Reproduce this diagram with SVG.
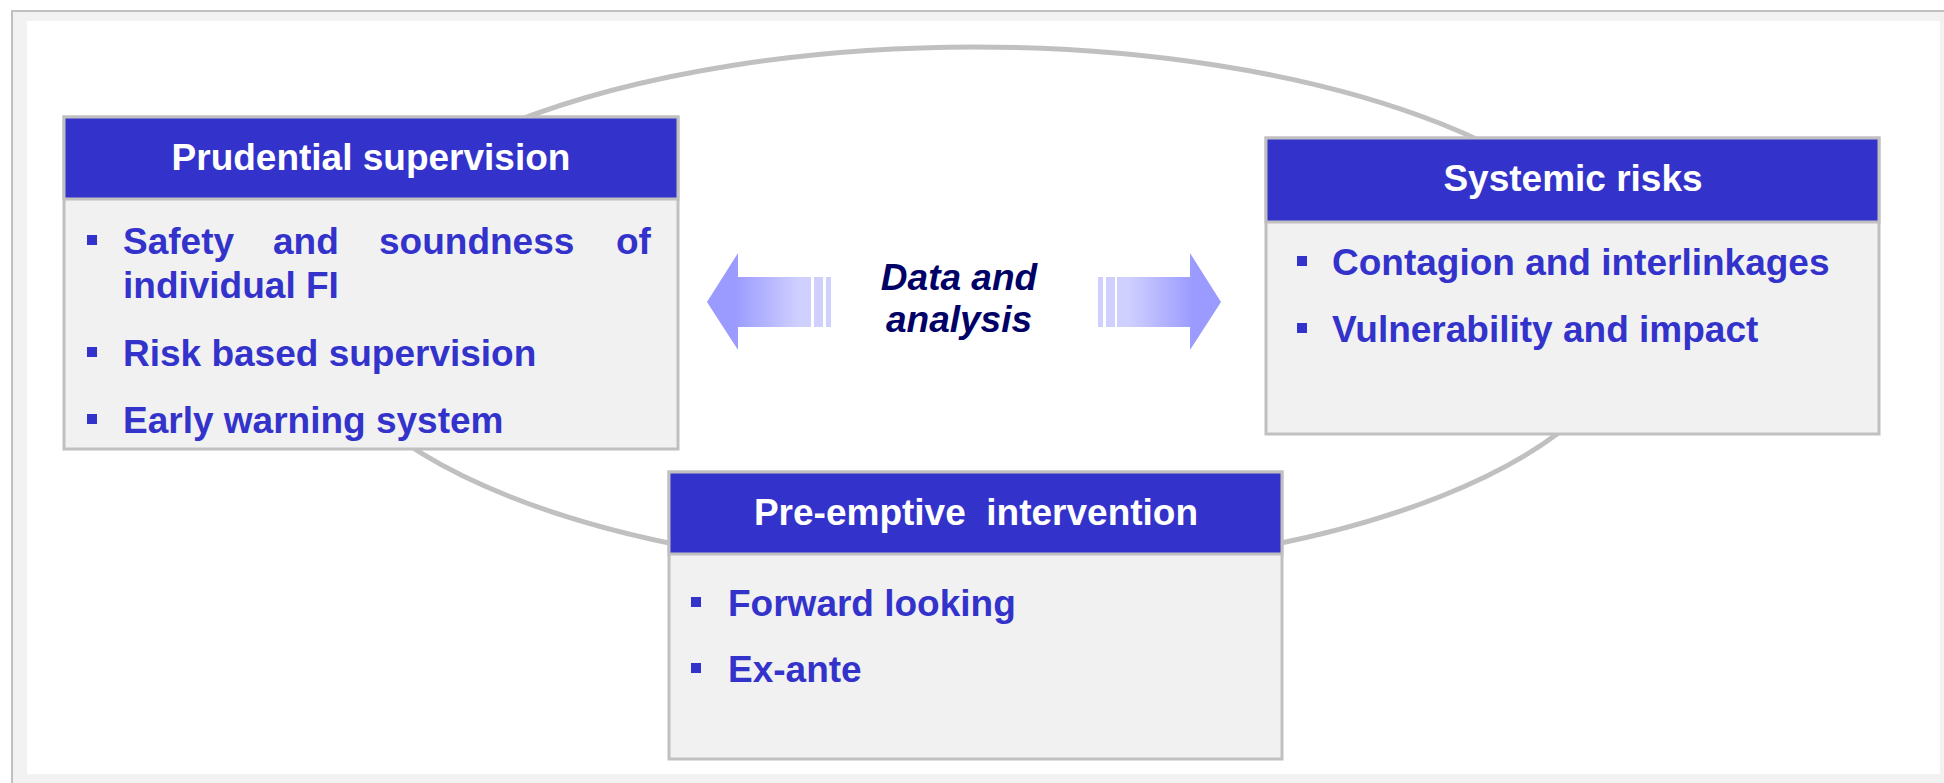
<svg xmlns="http://www.w3.org/2000/svg" width="1944" height="783" viewBox="0 0 1944 783">
  <defs>
    <linearGradient id="gradLeft" gradientUnits="userSpaceOnUse" x1="735" y1="0" x2="800" y2="0">
      <stop offset="0" stop-color="#9b9bff"/>
      <stop offset="1" stop-color="#d0d0ff"/>
    </linearGradient>
    <linearGradient id="gradRight" gradientUnits="userSpaceOnUse" x1="1128" y1="0" x2="1193" y2="0">
      <stop offset="0" stop-color="#d0d0ff"/>
      <stop offset="1" stop-color="#9b9bff"/>
    </linearGradient>
    <style>
      .frame { fill: #f2f2f2; stroke: #c0c0c0; stroke-width: 2; }
      .panel { fill: #ffffff; }
      .cycle { fill: none; stroke: #c0c0c0; stroke-width: 5; }
      .strip { fill: #d0d0ff; }
      .body { fill: #f1f1f1; stroke: #c0c0c0; stroke-width: 3; }
      .head { fill: #3333cc; stroke: #c0c0c0; stroke-width: 3; }
      .title { font-family: "Liberation Sans", Arial, sans-serif; font-weight: bold; font-size: 37px; fill: #ffffff; text-anchor: middle; }
      .item { font-family: "Liberation Sans", Arial, sans-serif; font-weight: bold; font-size: 37px; fill: #3333cc; }
      .bullet { fill: #3333cc; }
      .center { font-family: "Liberation Sans", Arial, sans-serif; font-weight: bold; font-style: italic; font-size: 37px; fill: #000066; text-anchor: middle; }
    </style>
  </defs>

  <!-- page frame -->
  <rect class="frame" x="12" y="11" width="1960" height="800"/>
  <rect class="panel" x="27" y="21" width="1913" height="753"/>

  <!-- cycle ring and the two data-flow arrows -->
  <g id="connectors">
    <ellipse class="cycle" cx="975" cy="310" rx="660" ry="263"/>
    <g id="arrow-left">
      <polygon points="707,302 738,253 738,277 811,277 811,327 738,327 738,350" fill="url(#gradLeft)"/>
      <rect class="strip" x="814" y="277" width="9" height="50"/>
      <rect class="strip" x="826" y="277" width="5" height="50"/>
    </g>
    <g id="arrow-right">
      <polygon points="1221,302 1190,253 1190,277 1117,277 1117,327 1190,327 1190,350" fill="url(#gradRight)"/>
      <rect class="strip" x="1106" y="277" width="9" height="50"/>
      <rect class="strip" x="1098" y="277" width="5" height="50"/>
    </g>
  </g>

  <g id="label-data">
    <text class="center" x="959" y="290">Data and</text>
    <text class="center" x="959" y="332">analysis</text>
  </g>

  <!-- Prudential supervision -->
  <g id="node-prudential">
    <rect class="body" x="64" y="117" width="614" height="332"/>
    <rect class="head" x="64" y="117" width="614" height="82"/>
    <text class="title" x="371" y="170">Prudential supervision</text>
    <rect class="bullet" x="87" y="235" width="10" height="10"/>
    <text class="item" y="254"><tspan x="123">Safety</tspan><tspan x="273">and</tspan><tspan x="379">soundness</tspan><tspan x="616">of</tspan></text>
    <text class="item" x="123" y="298">individual FI</text>
    <rect class="bullet" x="87" y="347" width="10" height="10"/>
    <text class="item" x="123" y="366">Risk based supervision</text>
    <rect class="bullet" x="87" y="414" width="10" height="10"/>
    <text class="item" x="123" y="433">Early warning system</text>
  </g>

  <!-- Systemic risks -->
  <g id="node-systemic">
    <rect class="body" x="1266" y="138" width="613" height="296"/>
    <rect class="head" x="1266" y="138" width="613" height="84"/>
    <text class="title" x="1573" y="191">Systemic risks</text>
    <rect class="bullet" x="1297" y="256" width="10" height="10"/>
    <text class="item" x="1332" y="275">Contagion and interlinkages</text>
    <rect class="bullet" x="1297" y="323" width="10" height="10"/>
    <text class="item" x="1332" y="342">Vulnerability and impact</text>
  </g>

  <!-- Pre-emptive intervention -->
  <g id="node-preemptive">
    <rect class="body" x="669" y="472" width="613" height="287"/>
    <rect class="head" x="669" y="472" width="613" height="82"/>
    <text class="title" x="976" y="525" xml:space="preserve">Pre-emptive  intervention</text>
    <rect class="bullet" x="691" y="597" width="10" height="10"/>
    <text class="item" x="728" y="616">Forward looking</text>
    <rect class="bullet" x="691" y="663" width="10" height="10"/>
    <text class="item" x="728" y="682">Ex-ante</text>
  </g>
</svg>
